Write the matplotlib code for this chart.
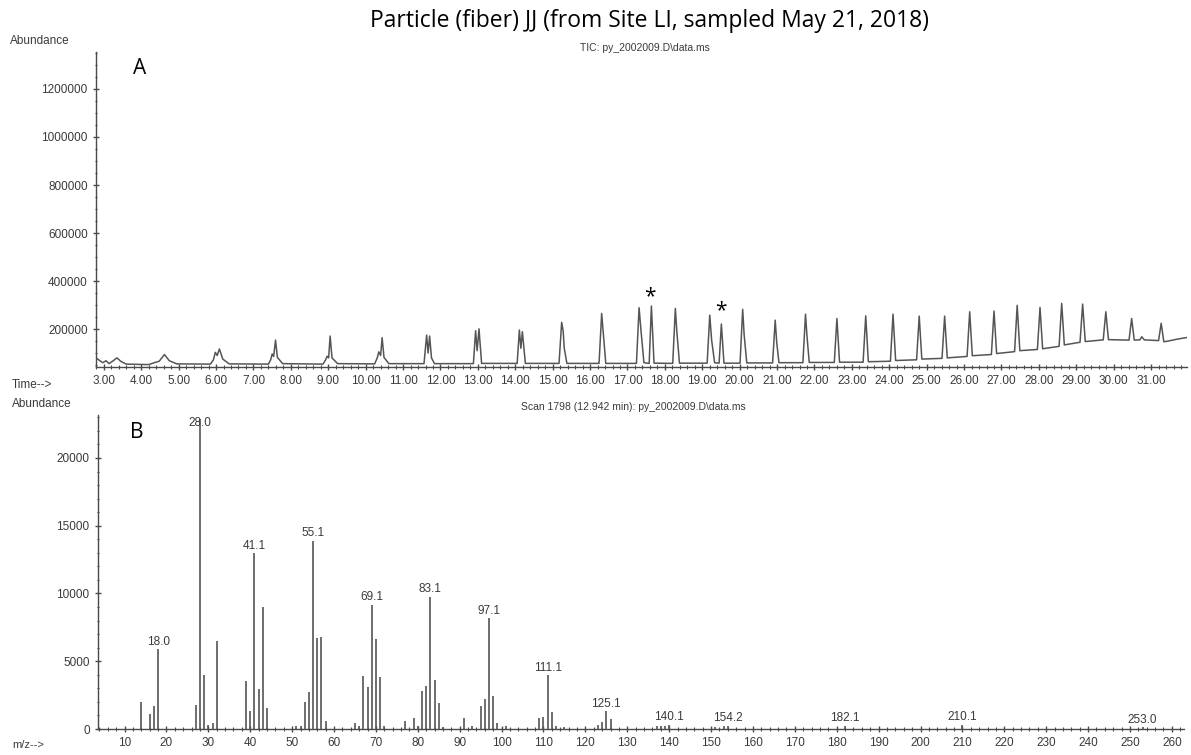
import matplotlib
matplotlib.use("Agg")
import matplotlib.pyplot as plt
from matplotlib.ticker import MultipleLocator, FixedLocator, FuncFormatter

W, H = 1191, 755

# TIC trace vertices (retention time in minutes, abundance)
tic_time = [
    2.79, 2.90, 2.97, 3.06, 3.14, 3.25, 3.35, 3.45, 3.60, 4.20, 4.35, 4.48, 4.62, 4.75, 4.95,
    5.85, 5.93, 5.98, 6.03, 6.09, 6.18, 6.35,
    7.40, 7.46, 7.50, 7.54, 7.59, 7.64, 7.78,
    8.86, 8.93, 8.97, 9.01, 9.05, 9.10, 9.25,
    10.24, 10.31, 10.35, 10.40, 10.44, 10.49, 10.62,
    11.56, 11.63, 11.67, 11.71, 11.76, 11.84,
    12.88, 12.94, 12.98, 13.03, 13.10,
    14.05, 14.11, 14.15, 14.19, 14.27,
    15.17, 15.24, 15.28, 15.31, 15.38,
    16.24, 16.31, 16.35, 16.42,
    17.24, 17.31, 17.36, 17.44, 17.58, 17.64, 17.71,
    18.21, 18.28, 18.32, 18.39,
    19.13, 19.20, 19.25, 19.33, 19.45, 19.51, 19.58,
    20.01, 20.08, 20.12, 20.19,
    20.88, 20.95, 20.99, 21.05,
    21.69, 21.76, 21.80, 21.86,
    22.53, 22.60, 22.67,
    23.30, 23.37, 23.44,
    24.03, 24.10, 24.17,
    24.73, 24.80, 24.87,
    25.41, 25.48, 25.55,
    26.08, 26.15, 26.22,
    26.73, 26.80, 26.87,
    27.35, 27.42, 27.49,
    27.96, 28.03, 28.10,
    28.54, 28.61, 28.68,
    29.10, 29.17, 29.24,
    29.72, 29.79, 29.86,
    30.41, 30.48, 30.55, 30.70, 30.75, 30.82,
    31.20, 31.27, 31.34, 31.45, 31.70, 31.96,
]
tic_abund = [
    80000, 68000, 60000, 68000, 56000, 68000, 80000, 66000, 54000, 52000, 60000, 66000, 94000, 68000, 55000,
    54000, 72000, 103000, 90000, 117000, 75000, 55000,
    54000, 72000, 96000, 86000, 154000, 82000, 56000,
    54000, 72000, 87000, 80000, 171000, 80000, 56000,
    55000, 80000, 105000, 90000, 164000, 82000, 56000,
    56000, 175000, 100000, 171000, 80000, 56000,
    56000, 193000, 110000, 201000, 57000,
    57000, 196000, 120000, 189000, 57000,
    57000, 228000, 193000, 120000, 57000,
    57000, 265000, 189000, 57000,
    57000, 289000, 196000, 60000, 57000, 296000, 58000,
    57000, 286000, 189000, 58000,
    58000, 258000, 154000, 60000, 58000, 221000, 58000,
    58000, 282000, 175000, 59000,
    59000, 237000, 145000, 60000,
    60000, 262000, 170000, 61000,
    61000, 244000, 62000,
    62000, 255000, 64000,
    66000, 262000, 69000,
    72000, 254000, 75000,
    78000, 254000, 80000,
    86000, 272000, 89000,
    94000, 275000, 98000,
    106000, 299000, 110000,
    115000, 290000, 118000,
    128000, 307000, 134000,
    145000, 304000, 148000,
    155000, 272000, 156000,
    154000, 244000, 154000, 155000, 168000, 155000,
    152000, 224000, 147000, 150000, 158000, 165000,
]

# mass spectrum of scan 1798 (m/z, abundance)
ms_mz = [14, 16, 17, 18, 27, 28, 29, 30, 31, 32, 39, 40, 41, 42, 43, 44,
         51, 52, 53, 54, 55, 56, 57, 58, 65, 66, 67, 68, 69, 70, 71, 72,
         77, 79, 80, 81, 82, 83, 84, 85, 86, 91, 93, 95, 96, 97, 98, 99, 101,
         109, 110, 111, 112, 113, 115, 123, 124, 125, 126,
         137, 138, 139, 140, 151, 153, 154, 182, 210, 253]
ms_abund = [1970, 1100, 1720, 5900, 1800, 22880, 4010, 320, 440, 6470, 3570, 1350, 12990, 2930, 8980, 1550,
            250, 250, 1970, 2760, 13900, 6690, 6810, 570, 420, 250, 3890, 3120, 9180, 6640, 3860, 250,
            570, 810, 250, 2780, 3200, 9770, 3620, 1890, 170, 810, 250, 1700, 2210, 8190, 2460, 420, 250,
            810, 860, 3990, 1230, 250, 170, 320, 540, 1300, 740,
            250, 250, 250, 320, 170, 250, 250, 250, 320, 150]
ms_labels = {18: "18.0", 28: "28.0", 41: "41.1", 55: "55.1", 69: "69.1", 83: "83.1", 97: "97.1",
             111: "111.1", 125: "125.1", 140: "140.1", 154: "154.2", 182: "182.1", 210: "210.1", 253: "253.0"}

# starred peaks on the TIC
star_time = [17.59, 19.49]
star_abund = [334000, 276000]

INK = "#4a4a4a"
TXT = "#3a3a3a"
SANS = "Liberation Sans"

fig = plt.figure(figsize=(W / 100, H / 100), dpi=100)


def box(l, t, r, b):
    return [l / W, 1 - b / H, (r - l) / W, (b - t) / H]


def style(ax):
    for s in ("top", "right"):
        ax.spines[s].set_visible(False)
    for s in ("left", "bottom"):
        ax.spines[s].set_color(INK)
        ax.spines[s].set_linewidth(1.0)
    ax.tick_params(which="both", direction="inout", color=INK, labelcolor=TXT, labelsize=8.5)
    ax.tick_params(which="major", length=5, width=1)
    ax.tick_params(which="minor", length=3, width=0.8)
    for lab in ax.get_xticklabels() + ax.get_yticklabels():
        lab.set_family(SANS)


# --- panel A: total ion chromatogram ---
ax1 = fig.add_axes(box(96, 52, 1187, 367))
ax1.plot(tic_time, tic_abund, color="#555555", lw=1.1)
ax1.set_xlim(2.79, 31.96)
ax1.set_ylim(42000, 1354000)
ax1.xaxis.set_major_locator(MultipleLocator(1))
ax1.xaxis.set_minor_locator(MultipleLocator(0.2))
ax1.xaxis.set_major_formatter(FuncFormatter(lambda v, p: f"{v:.2f}"))
ax1.yaxis.set_major_locator(FixedLocator([200000, 400000, 600000, 800000, 1000000, 1200000]))
ax1.yaxis.set_minor_locator(MultipleLocator(50000))
ax1.yaxis.set_major_formatter(FuncFormatter(lambda v, p: f"{int(v)}"))
style(ax1)
ax1.tick_params(axis="y", which="minor", length=2)
ax1.tick_params(axis="x", pad=3)
for t, a in zip(star_time, star_abund):
    ax1.text(t, a, "*", ha="center", va="center", fontsize=15, color="black", family="Open Sans")

# --- panel B: mass spectrum ---
ax2 = fig.add_axes(box(98, 415, 1184, 729))
ax2.vlines(ms_mz, 0, ms_abund, color="#555555", lw=1.2)
ax2.set_xlim(3.66, 262.9)
ax2.set_ylim(0, 23170)
ax2.xaxis.set_major_locator(MultipleLocator(10))
ax2.xaxis.set_minor_locator(MultipleLocator(2))
ax2.yaxis.set_major_locator(MultipleLocator(5000))
ax2.yaxis.set_minor_locator(MultipleLocator(1000))
style(ax2)
ax2.tick_params(axis="y", which="minor", length=2)
for m, a in zip(ms_mz, ms_abund):
    if m in ms_labels:
        y = min(a, 22000)
        ax2.annotate(ms_labels[m], (m, y), xytext=(0, 1), textcoords="offset points",
                     ha="center", va="bottom", fontsize=8.5, color=TXT, family=SANS)

# --- texts ---
fig.text(650 / W, 1 - 21 / H, "Particle (fiber) JJ (from Site LI, sampled May 21, 2018)",
         ha="center", va="center", fontsize=16.5, color="black", family="Open Sans")
fig.text(645 / W, 1 - 48 / H, "TIC: py_2002009.D\\data.ms", ha="center", va="center",
         fontsize=7.5, color=TXT, family=SANS)
fig.text(10 / W, 1 - 41 / H, "Abundance", ha="left", va="center", fontsize=8.5, color=TXT, family=SANS)
fig.text(133 / W, 1 - 68 / H, "A", ha="left", va="center", fontsize=15, color="black", family="Open Sans")
fig.text(12 / W, 1 - 385 / H, "Time-->", ha="left", va="center", fontsize=8.5, color=TXT, family=SANS)
fig.text(12 / W, 1 - 404 / H, "Abundance", ha="left", va="center", fontsize=8.5, color=TXT, family=SANS)
fig.text(633 / W, 1 - 407 / H, "Scan 1798 (12.942 min): py_2002009.D\\data.ms", ha="center",
         va="center", fontsize=7.5, color=TXT, family=SANS)
fig.text(130 / W, 1 - 432 / H, "B", ha="left", va="center", fontsize=15, color="black", family="Open Sans")
fig.text(12 / W, 1 - 745 / H, "m/z-->", ha="left", va="center", fontsize=8, color=TXT, family=SANS)

fig.savefig("out.png", dpi=100)
